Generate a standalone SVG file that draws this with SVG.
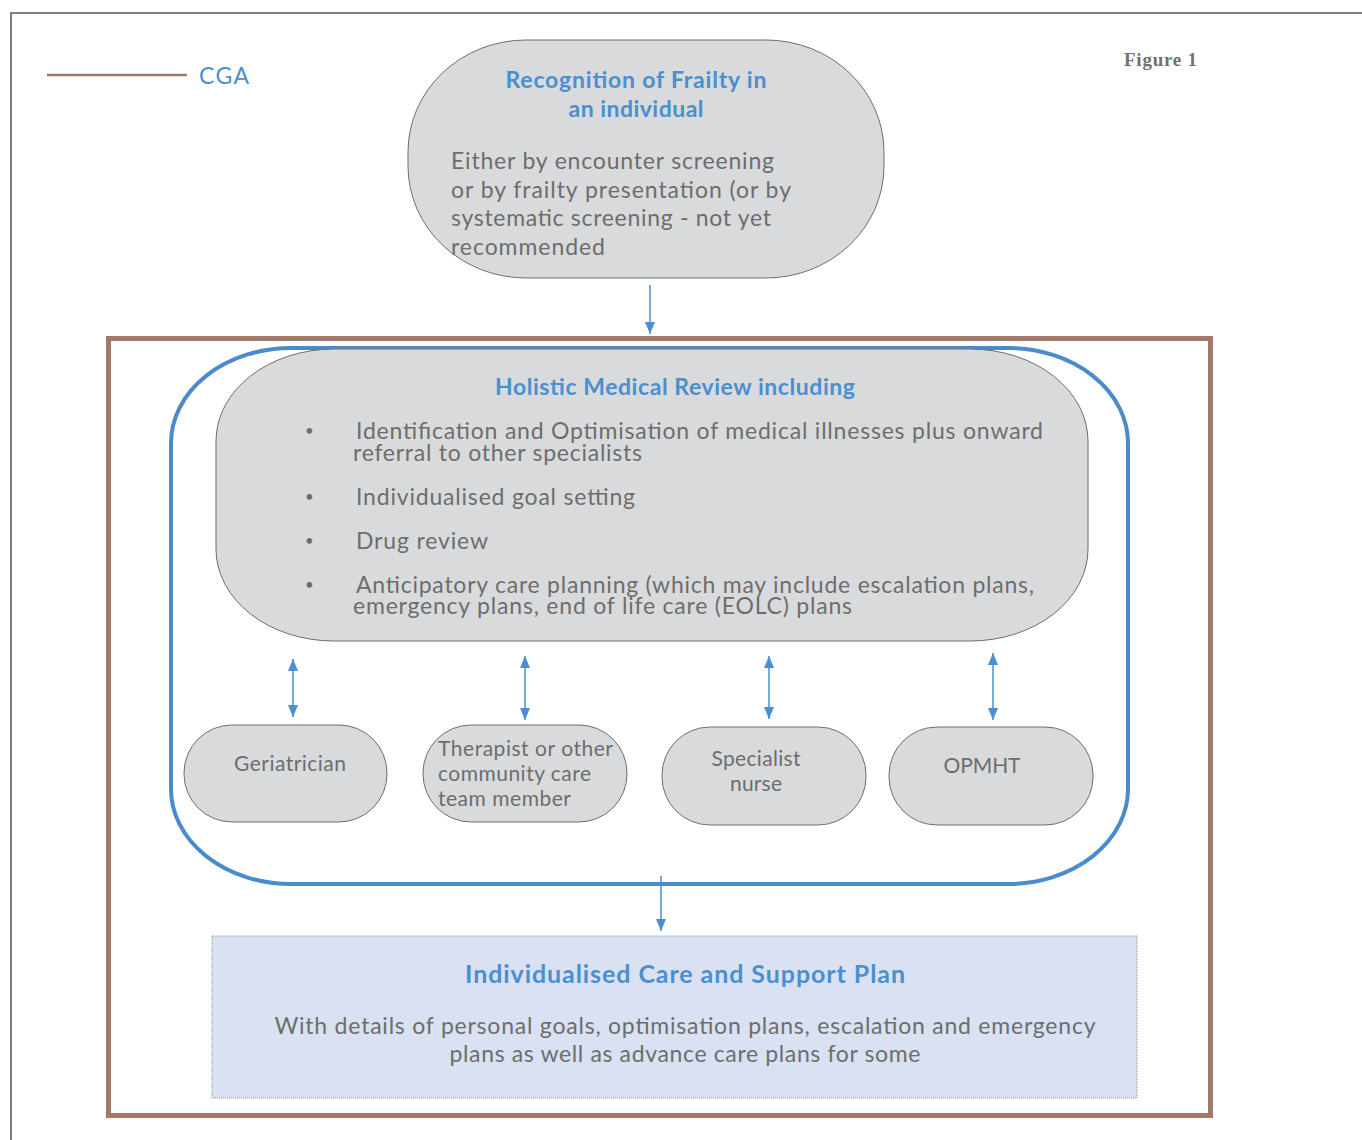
<svg xmlns="http://www.w3.org/2000/svg" width="1362" height="1140" viewBox="0 0 1362 1140">
<defs>
<style>
.node{fill:#d9dadc;stroke:#6e6e6e;stroke-width:1}
.title{font-family:Lato,"Open Sans",sans-serif;font-weight:bold;fill:#4a8fd0}
.body{font-family:Lato,"Open Sans",sans-serif;fill:#6d6d6d}
.bullet{font-family:Lato,"Open Sans",sans-serif;fill:#6d6d6d;font-size:15px}
.conn{stroke:#4a8fd0;stroke-width:1.5;fill:none}
</style>
<marker id="ah" viewBox="0 0 12 10" refX="12" refY="5" markerWidth="12" markerHeight="10" markerUnits="userSpaceOnUse" orient="auto-start-reverse">
<path d="M0,0 L12,5 L0,10 z" fill="#4a8fd0"/>
</marker>
</defs>
<rect width="1362" height="1140" fill="#ffffff"/>
<rect x="11" y="13" width="1400" height="1200" fill="none" stroke="#7f7f7f" stroke-width="2"/>

<g id="legend">
<line x1="47" y1="75" x2="187" y2="75" stroke="#a47868" stroke-width="2.5"/>
<text x="199" y="84" font-family="Lato,'Open Sans',sans-serif" font-size="23" fill="#4a8fd0" textLength="50">CGA</text>
</g>
<text id="figure-label" x="1124" y="66" font-family="'Liberation Serif',serif" font-weight="bold" font-size="19" fill="#707070" textLength="73">Figure 1</text>

<g id="cga-frame">
<rect x="108.5" y="338.5" width="1102" height="777" fill="none" stroke="#a47868" stroke-width="5"/>
</g>
<g id="team-frame">
<rect x="171" y="348" width="957" height="536" rx="120" ry="95" fill="none" stroke="#4a8ccb" stroke-width="4"/>
</g>

<g id="recognition">
<rect class="node" x="408" y="40" width="476" height="238" rx="118" ry="112"/>
<text class="title" font-size="23" text-anchor="middle"><tspan x="636" y="88" textLength="261">Recognition of Frailty in</tspan><tspan x="636" y="117" textLength="135">an individual</tspan></text>
<text class="body" font-size="23"><tspan x="451" y="169" textLength="323">Either by encounter screening</tspan><tspan x="451" y="198" textLength="340">or by frailty presentation (or by</tspan><tspan x="451" y="226" textLength="320">systematic screening - not yet</tspan><tspan x="451" y="255" textLength="154">recommended</tspan></text>
</g>

<g id="holistic">
<rect class="node" x="216" y="349" width="872" height="292" rx="118" ry="92"/>
<text class="title" font-size="23" x="675" y="395" text-anchor="middle" textLength="360">Holistic Medical Review including</text>
<g class="body" font-size="23">
<text class="bullet" x="305" y="436">•</text><text x="356" y="439" textLength="687">Identification and Optimisation of medical illnesses plus onward</text>
<text x="353" y="461" textLength="289">referral to other specialists</text>
<text class="bullet" x="305" y="502">•</text><text x="356" y="505" textLength="279">Individualised goal setting</text>
<text class="bullet" x="305" y="546">•</text><text x="356" y="549" textLength="132">Drug review</text>
<text class="bullet" x="305" y="590">•</text><text x="356" y="593" textLength="678">Anticipatory care planning (which may include escalation plans,</text>
<text x="353" y="614" textLength="499">emergency plans, end of life care (EOLC) plans</text>
</g>
</g>

<g id="geriatrician">
<rect class="node" x="184" y="725" width="203" height="97" rx="48" ry="48"/>
<text class="body" font-size="21" x="290" y="771" text-anchor="middle" textLength="112">Geriatrician</text>
</g>
<g id="therapist">
<rect class="node" x="423" y="725" width="204" height="97" rx="48" ry="48"/>
<text class="body" font-size="21"><tspan x="438" y="756" textLength="175">Therapist or other</tspan><tspan x="438" y="781" textLength="153">community care</tspan><tspan x="438" y="806" textLength="133">team member</tspan></text>
</g>
<g id="specialist-nurse">
<rect class="node" x="662" y="727" width="204" height="98" rx="48" ry="48"/>
<text class="body" font-size="21" text-anchor="middle"><tspan x="756" y="766" textLength="89">Specialist</tspan><tspan x="756" y="791" textLength="52">nurse</tspan></text>
</g>
<g id="opmht">
<rect class="node" x="889" y="727" width="204" height="98" rx="48" ry="48"/>
<text class="body" font-size="21" x="982" y="773" text-anchor="middle" textLength="77">OPMHT</text>
</g>

<g id="care-plan">
<rect x="212" y="936" width="925" height="162" fill="#d9e1f2" stroke="#8a8f99" stroke-width="1" stroke-dasharray="1 1"/>
<text class="title" font-size="25" x="685" y="983" text-anchor="middle" textLength="440">Individualised Care and Support Plan</text>
<text class="body" font-size="23" text-anchor="middle"><tspan x="685" y="1034" textLength="821">With details of personal goals, optimisation plans, escalation and emergency</tspan><tspan x="685" y="1062" textLength="471">plans as well as advance care plans for some</tspan></text>
</g>

<g id="connectors">
<line class="conn" x1="650" y1="285" x2="650" y2="334" marker-end="url(#ah)"/>
<line class="conn" x1="293" y1="659" x2="293" y2="717" marker-start="url(#ah)" marker-end="url(#ah)"/>
<line class="conn" x1="525" y1="656" x2="525" y2="720" marker-start="url(#ah)" marker-end="url(#ah)"/>
<line class="conn" x1="769" y1="656" x2="769" y2="719" marker-start="url(#ah)" marker-end="url(#ah)"/>
<line class="conn" x1="993" y1="653" x2="993" y2="720" marker-start="url(#ah)" marker-end="url(#ah)"/>
<line class="conn" x1="661" y1="876" x2="661" y2="931" marker-end="url(#ah)"/>
</g>
</svg>
